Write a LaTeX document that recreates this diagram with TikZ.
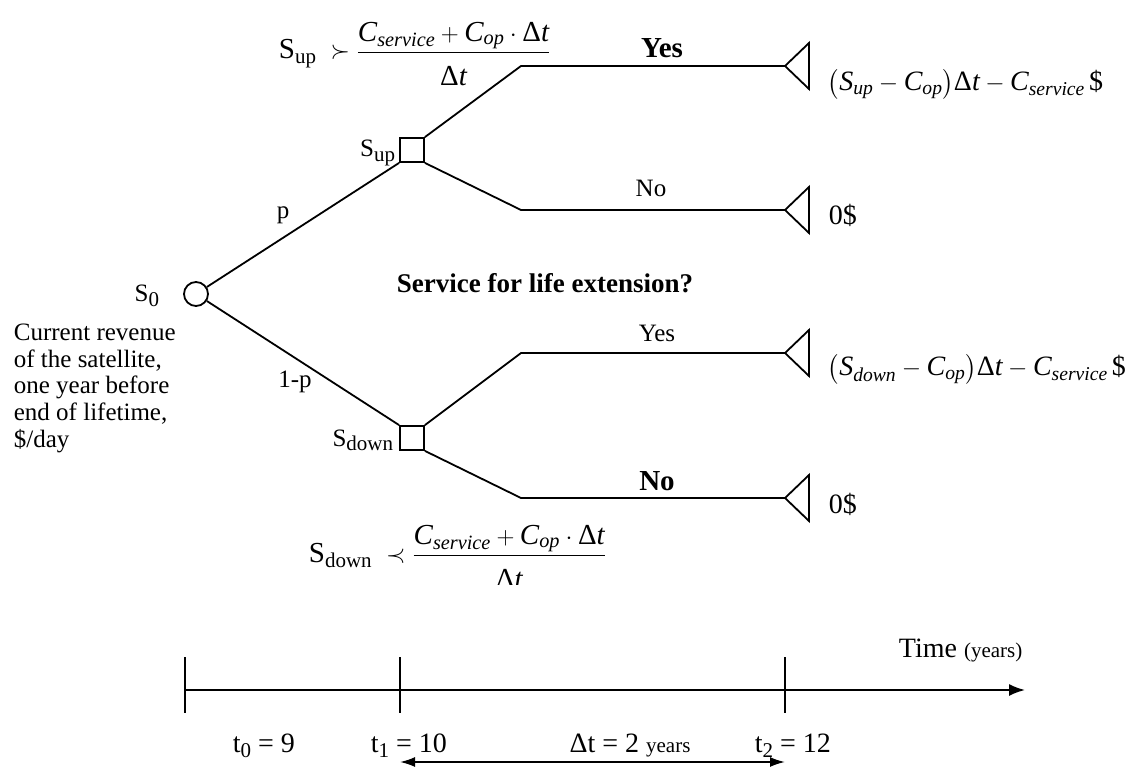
\documentclass[tikz,border=0pt]{standalone}
\usepackage{amsmath}
\usepackage{fontspec}
\setmainfont{Liberation Serif}
\usetikzlibrary{arrows.meta}

% italic text inside formulas, and lowered upright subscripts
\newcommand\itx[1]{\text{\itshape #1}}
\newcommand\lsub[2][16]{\raisebox{-5pt}{\fontsize{#1}{#1}\selectfont #2}}
% service threshold fraction, with a deeper denominator
\newcommand\threshold{\dfrac{\itx{C}_{\itx{service}}+\itx{C}_{\itx{op}}\cdot\text{Δ}\itx{t}}{\rule{0pt}{29pt}\text{Δ}\itx{t}}}

\begin{document}
\begin{tikzpicture}[x=1pt,y=-1pt,line width=1.8pt,
  txt/.style={inner sep=0pt,font=\fontsize{25}{26.7}\selectfont},
  axtxt/.style={inner sep=0pt,font=\fontsize{28}{30}\selectfont},
  eqn/.style={inner sep=0pt,font=\fontsize{28}{30}\selectfont},
  fraceqn/.style={inner sep=0pt,font=\fontsize{29}{31}\selectfont},
  boldlbl/.style={inner sep=0pt,font=\fontsize{29}{31}\selectfont\bfseries},
  question/.style={inner sep=0pt,font=\fontsize{27}{29}\selectfont\bfseries},
  chance/.style={circle,draw,minimum size=24pt,inner sep=0pt},
  decision/.style={rectangle,draw,minimum size=24pt,inner sep=0pt},
  leaf/.style={line join=miter},
  axis/.style={-{Latex[length=16pt,width=12pt]}},
  span/.style={{Latex[length=15pt,width=10pt]}-{Latex[length=15pt,width=10pt]}}]

\useasboundingbox (0,0) rectangle (1141,767);

% tree nodes
\node[chance] (s0) at (196,294) {};
\node[decision] (sup) at (412,150) {};
\node[decision] (sdn) at (412,438) {};

% branch bends and end points
\coordinate (kuy) at (521,66);
\coordinate (kun) at (521,210);
\coordinate (kdy) at (521,353);
\coordinate (kdn) at (521,498);
\coordinate (euy) at (785,66);
\coordinate (eun) at (785,210);
\coordinate (edy) at (785,353);
\coordinate (edn) at (785,498);

% branches
\draw (s0) -- (sup.south west);
\draw (s0) -- (sdn.north west);
\draw (sup.north east) -- (kuy) -- (euy);
\draw (sup.south east) -- (kun) -- (eun);
\draw (sdn.north east) -- (kdy) -- (edy);
\draw (sdn.south east) -- (kdn) -- (edn);

% terminal triangles
\foreach \e in {euy,eun,edy,edn}
  \draw[leaf] (\e) -- ++(24,-23) -- ++(0,46) -- cycle;

% node labels
\node[txt,anchor=base east] (ls0) at (160,302) {S\lsub[21]{0}};
\node[txt,anchor=base east] (lsup) at (396,157) {S\lsub[21]{up}};
\node[txt,anchor=base east] (lsdn) at (394,446) {S\lsub[21]{down}};
\node[txt,anchor=north west,align=left] (desc) at (13,323)
  {Current revenue\\of the satellite,\\one year before\\end of lifetime,\\\$/day};

% probabilities
\node[txt,anchor=base] (lp) at (283,219) {p};
\node[txt,anchor=base] (lq) at (295,388) {1-p};

% decision question
\node[question,anchor=base] (ask) at (545,293) {Service for life extension?};

% branch labels
\node[boldlbl,anchor=base] (yu) at (662,58) {Yes};
\node[txt,anchor=base] (nu) at (651,197) {No};
\node[txt,anchor=base] (yd) at (657,342) {Yes};
\node[boldlbl,anchor=base] (nd) at (657,490) {No};

% thresholds
\node[fraceqn,anchor=base west] (cup) at (278,59)
  {S\lsub[21]{up}\ \ $\succ\threshold$};
\begin{scope}
  \clip (280,500) rectangle (660,584);
  \node[fraceqn,anchor=base west] (cdn) at (308,562)
    {S\lsub[21]{down}\ \ $\prec\threshold$};
\end{scope}

% payoffs
\node[eqn,anchor=base west] (puy) at (827,91)
  {$\bigl(\itx{S}_{\itx{up}}-\itx{C}_{\itx{op}}\bigr)\text{Δ}\itx{t}-\itx{C}_{\itx{service}}\,\text{\$}$};
\node[eqn,anchor=base west] (pun) at (828,225) {0\$};
\node[eqn,anchor=base west] (pdy) at (827,376)
  {$\bigl(\itx{S}_{\itx{down}}-\itx{C}_{\itx{op}}\bigr)\text{Δ}\itx{t}-\itx{C}_{\itx{service}}\,\text{\$}$};
\node[eqn,anchor=base west] (pdn) at (828,513) {0\$};

% time axis
\coordinate (t0) at (185,690);
\coordinate (t1) at (400,690);
\coordinate (t2) at (785,690);
\coordinate (tend) at (1025,690);
\draw[axis] (t0) -- (tend);
\foreach \t in {t0,t1,t2}
  \draw (\t) ++(0,-33) -- ++(0,56);
\node[axtxt,anchor=base west] (ltime) at (898,657) {Time {\fontsize{21}{21}\selectfont(years)}};
\node[axtxt,anchor=base west] (lt0) at (232,752) {t\lsub[21]{0} = 9};
\node[axtxt,anchor=base west] (lt1) at (370,752) {t\lsub[21]{1} = 10};
\node[axtxt,anchor=base west] (lt2) at (754,752) {t\lsub[21]{2} = 12};
\node[axtxt,anchor=base] (ldt) at (630,752) {Δt = 2 {\fontsize{21}{21}\selectfont years}};

% interval between t1 and t2
\coordinate (d1) at (400,762);
\coordinate (d2) at (785,762);
\draw[span] (d1) -- (d2);
\end{tikzpicture}
\end{document}
